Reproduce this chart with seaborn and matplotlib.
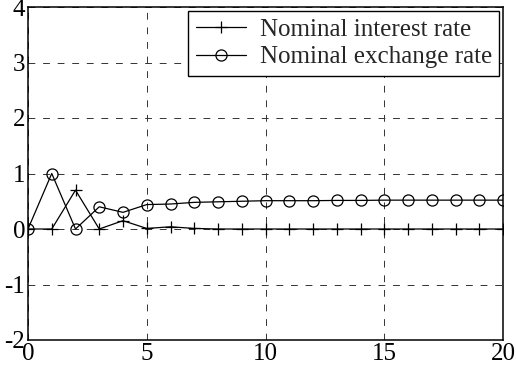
import numpy as np
import pandas as pd
import matplotlib
matplotlib.use("Agg")
import matplotlib.pyplot as plt
import seaborn as sns

# Impulse responses over 0..20 periods
periods = list(range(21))
interest_rate = [0.0, 0.0, 0.70, 0.0, 0.15, 0.01, 0.04, 0.01, 0.0, 0.0, 0.0,
                 0.0, 0.0, 0.0, 0.0, 0.0, 0.0, 0.0, 0.0, 0.0, 0.0]
exchange_rate = [0.0, 1.0, 0.0, 0.40, 0.30, 0.44, 0.45, 0.48, 0.49, 0.50, 0.51,
                 0.51, 0.51, 0.515, 0.515, 0.52, 0.52, 0.52, 0.52, 0.52, 0.52]
series_names = ["Nominal interest rate", "Nominal exchange rate"]
series_markers = ["+", "o"]
x_ticks = [0, 5, 10, 15, 20]
y_ticks = [-2, -1, 0, 1, 2, 3, 4]

sns.set_style("white")
plt.rcParams["font.family"] = ["Liberation Serif", "DejaVu Serif"]
plt.rcParams["axes.unicode_minus"] = False

fig = plt.figure(figsize=(5.16, 3.67), dpi=100)
ax = fig.add_axes([28 / 516, 27 / 367, 475 / 516, 333 / 367])

for name, values, mk in zip(series_names, [interest_rate, exchange_rate], series_markers):
    sns.lineplot(x=periods, y=values, color="black", linewidth=0.9,
                 marker=mk, markersize=8, markeredgewidth=0.9,
                 markerfacecolor="none", markeredgecolor="black",
                 label=name, ax=ax)

ax.set_xlim(0, 20)
ax.set_ylim(-2, 4)
ax.set_xticks(x_ticks)
ax.set_yticks(y_ticks)
ax.set_xlabel("")
ax.set_ylabel("")
ax.grid(True, color="0.2", linestyle=(0, (7, 8)), linewidth=0.7)
for s in ax.spines.values():
    s.set_color("black")
    s.set_linewidth(1.1)
ax.tick_params(axis="both", labelsize=18, colors="black", direction="in",
               length=0, pad=2)

leg = ax.legend(loc="upper right", fontsize=18, frameon=True, fancybox=False,
                edgecolor="black", framealpha=1, borderpad=0.3,
                handlelength=2.0, handletextpad=0.55, labelspacing=0.2,
                borderaxespad=0.15)
leg.get_frame().set_linewidth(1.0)

fig.savefig("out.png", dpi=100)
